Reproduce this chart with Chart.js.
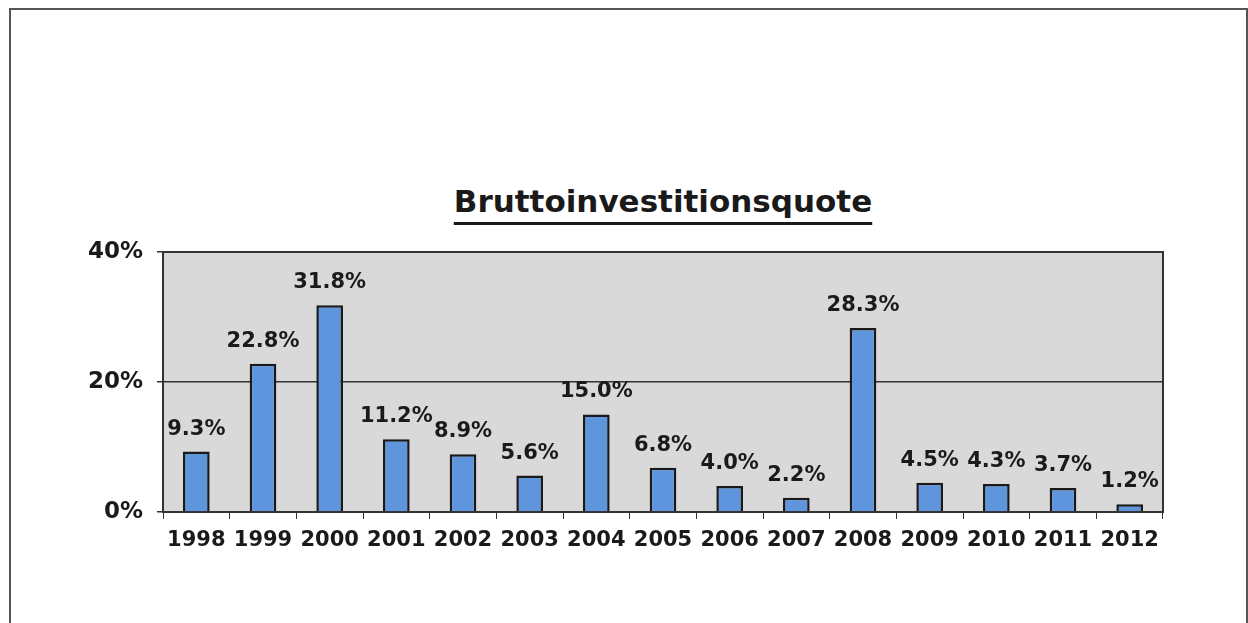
<!DOCTYPE html>
<html>
<head>
<meta charset="utf-8">
<script src="https://cdn.jsdelivr.net/npm/chart.js@4"></script>
<style>
  html, body { margin: 0; padding: 0; background: #fff; }
  #wrap { position: relative; width: 1248px; height: 623px; overflow: hidden; }
  #frame { position: absolute; left: 9px; top: 8px; width: 1235px; height: 700px; border: 2px solid #555; }
  #title {
    position: absolute; left: 163px; width: 1000px; top: 183px; text-align: center;
    font: bold 31px "DejaVu Sans", sans-serif; color: #1a1a1a;
    text-decoration: underline; text-decoration-thickness: 3px; text-underline-offset: 10px;
  }
  canvas { position: absolute; left: 0; top: 0; }
</style>
</head>
<body>
<div id="wrap">
  <div id="frame"></div>
  <div id="title">Bruttoinvestitionsquote</div>
  <canvas id="quoteChart" width="1248" height="623"></canvas>
</div>
<script>
// Daten
const years = ['1998', '1999', '2000', '2001', '2002', '2003', '2004', '2005', '2006', '2007', '2008', '2009', '2010', '2011', '2012'];
const quote = [9.3, 22.8, 31.8, 11.2, 8.9, 5.6, 15.0, 6.8, 4.0, 2.2, 28.3, 4.5, 4.3, 3.7, 1.2];
const yTicks = [0, 20, 40];

// Hintergrund + Rahmen der Zeichenfläche
const plotBox = {
  id: 'plotBox',
  beforeDraw(chart) {
    const a = chart.chartArea, c = chart.ctx;
    c.save();
    c.fillStyle = '#d9d9d9';
    c.fillRect(a.left, a.top, a.right - a.left, a.bottom - a.top);
    c.restore();
  },
  afterDraw(chart) {
    const a = chart.chartArea, c = chart.ctx;
    c.save();
    c.strokeStyle = '#333';
    c.lineWidth = 2;
    c.strokeRect(a.left, a.top, a.right - a.left, a.bottom - a.top);
    c.restore();
  }
};

// Werte über den Balken
const barLabels = {
  id: 'barLabels',
  afterDatasetsDraw(chart) {
    const c = chart.ctx;
    c.save();
    c.font = 'bold 21px "DejaVu Sans", sans-serif';
    c.fillStyle = '#1a1a1a';
    c.textAlign = 'center';
    c.textBaseline = 'bottom';
    chart.getDatasetMeta(0).data.forEach((bar, i) => {
      c.fillText(quote[i].toFixed(1) + '%', bar.x, bar.y - 12);
    });
    c.restore();
  }
};

const ctx = document.getElementById('quoteChart').getContext('2d');
new Chart(ctx, {
  type: 'bar',
  data: {
    labels: years,
    datasets: [{
      data: quote,
      backgroundColor: '#5f95dc',
      borderColor: '#1a1a1a',
      borderWidth: 2.5,
      borderSkipped: 'bottom',
      barPercentage: 0.4,
      categoryPercentage: 1
    }]
  },
  options: {
    responsive: false,
    animation: false,
    layout: { padding: { left: 0, right: 85, top: 252, bottom: 0 } },
    plugins: { legend: { display: false }, tooltip: { enabled: false } },
    scales: {
      x: {
        offset: true,
        afterFit: axis => { axis.height = 111; },
        grid: { display: true, drawOnChartArea: false, color: '#333', tickLength: 7, offset: true },
        border: { color: '#333', width: 2 },
        ticks: { color: '#1a1a1a', font: { family: 'DejaVu Sans', weight: 'bold', size: 21 }, padding: 9, maxRotation: 0, autoSkip: false }
      },
      y: {
        min: 0,
        max: 40,
        afterBuildTicks: axis => { axis.ticks = yTicks.map(v => ({ value: v })); },
        afterFit: axis => { axis.width = 163; },
        grid: { color: '#333', lineWidth: 1.5, tickLength: 6 },
        border: { color: '#333', width: 2 },
        ticks: { color: '#1a1a1a', font: { family: 'DejaVu Sans', weight: 'bold', size: 23 }, padding: 14, callback: v => v + '%' }
      }
    }
  },
  plugins: [plotBox, barLabels]
});
</script>
</body>
</html>
